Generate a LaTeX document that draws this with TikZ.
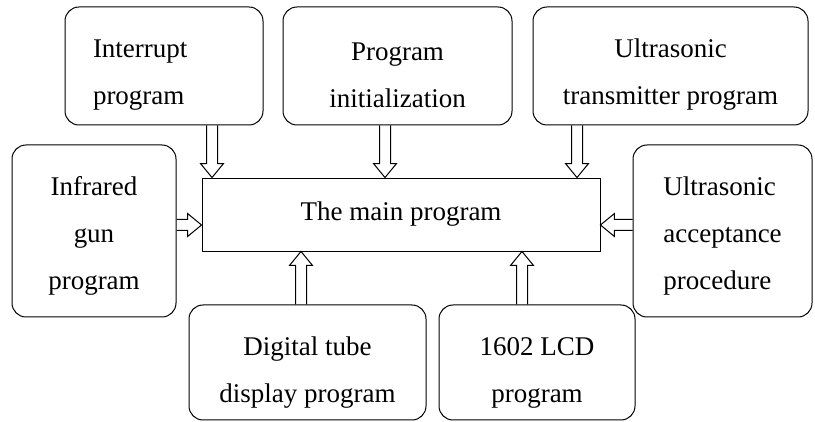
\documentclass[tikz,border=0pt]{standalone}
\usepackage{fontspec}
\setmainfont{Liberation Serif}
\usetikzlibrary{calc}
\newcommand{\lift}[1]{\rule{0pt}{#1}}
\begin{document}
\begin{tikzpicture}[x=1pt,y=-1pt,
    prog/.style={draw, line width=1pt, rounded corners=14pt, align=center,
      inner sep=0pt, font=\fontsize{27}{47}\selectfont},
    mainbox/.style={draw, line width=0.9pt, inner sep=0pt,
      font=\fontsize{27}{47}\selectfont},
    blockarrow/.style={line width=1pt, to path={
      ($(\tikztostart)!5.5pt!90:(\tikztotarget)$)
      -- ($(\tikztotarget)!14pt!(\tikztostart)!5.5pt!90:(\tikztotarget)$)
      -- ($(\tikztotarget)!14pt!(\tikztostart)!11.5pt!90:(\tikztotarget)$)
      -- (\tikztotarget)
      -- ($(\tikztotarget)!14pt!(\tikztostart)!11.5pt!-90:(\tikztotarget)$)
      -- ($(\tikztotarget)!14pt!(\tikztostart)!5.5pt!-90:(\tikztotarget)$)
      -- ($(\tikztostart)!5.5pt!-90:(\tikztotarget)$)}}]
   \useasboundingbox (0,0) rectangle (815,422);
   % top row
   \node[prog, align=left, text width=142pt, minimum width=198pt, minimum height=118pt] (intr) at (164,66) {\lift{36.5pt}Interrupt\\program};
   \node[prog, minimum width=229pt, minimum height=118pt] (init) at (397.5,66) {\lift{36.5pt}Program\\initialization};
   \node[prog, minimum width=275pt, minimum height=118pt] (trans) at (670.5,66) {\lift{36.5pt}Ultrasonic\\transmitter program};
   % middle row
   \node[prog, minimum width=164pt, minimum height=172pt] (infra) at (94,231) {\lift{28.5pt}Infrared\\gun\\program};
   \node[mainbox, minimum width=398pt, minimum height=73pt] (main) at (401,214.5) {The main program};
   \node[prog, align=left, minimum width=179pt, minimum height=172pt] (accept) at (722.5,231) {\lift{28.5pt}Ultrasonic\\acceptance\\procedure};
   % bottom row
   \node[prog, minimum width=237pt, minimum height=115pt] (digit) at (307.5,362.5) {\lift{38pt}Digital tube\\display program};
   \node[prog, minimum width=196pt, minimum height=115pt] (lcd) at (537,362.5) {\lift{38pt}1602 LCD\\program};
   % arrows
   \draw[blockarrow] ([xshift=48pt]intr.south) to ([xshift=-189pt]main.north);
   \draw[blockarrow] ([xshift=-12.5pt]init.south) to ([xshift=-16pt]main.north);
   \draw[blockarrow] ([xshift=-93.5pt]trans.south) to ([xshift=176pt]main.north);
   \draw[blockarrow] ([yshift=6pt]infra.east) to ([yshift=-10.5pt]main.west);
   \draw[blockarrow] ([yshift=6pt]accept.west) to ([yshift=-10.5pt]main.east);
   \draw[blockarrow] ([xshift=-6.5pt]digit.north) to ([xshift=-100pt]main.south);
   \draw[blockarrow] ([xshift=-15pt]lcd.north) to ([xshift=121pt]main.south);
\end{tikzpicture}
\end{document}
